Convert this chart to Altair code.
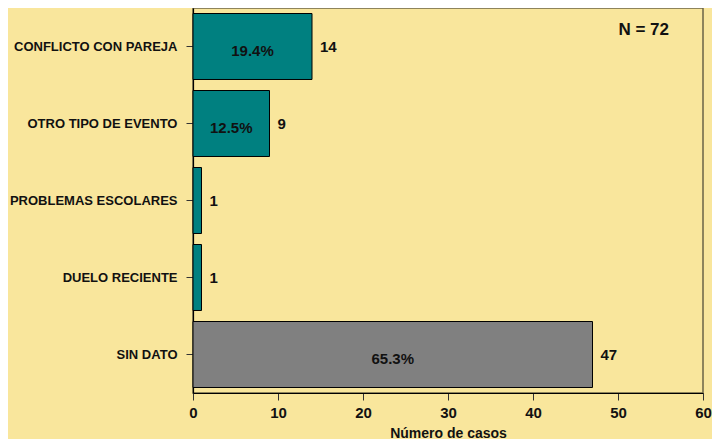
import altair as alt
import pandas as pd

categories = ["CONFLICTO CON PAREJA", "OTRO TIPO DE EVENTO", "PROBLEMAS ESCOLARES",
              "DUELO RECIENTE", "SIN DATO"]
counts = [14, 9, 1, 1, 47]
pct_labels = ["19.4%", "12.5%", "", "", "65.3%"]
groups = ["dato", "dato", "dato", "dato", "sin"]
x_ticks = [0, 10, 20, 30, 40, 50, 60]
n_label = "N = 72"

df = pd.DataFrame({
    "cat": categories,
    "n": counts,
    "pct": pct_labels,
    "grp": groups,
})
df["half"] = df["n"] / 2

FONT = "Liberation Sans"
BG = "#F9E69C"

y_enc = alt.Y("cat:N", sort=categories, title=None,
              scale=alt.Scale(paddingInner=0.143, paddingOuter=0.0715),
              axis=alt.Axis(labelFont=FONT, labelFontWeight="bold", labelFontSize=13,
                            labelColor="#111111", labelPadding=9, tickSize=7,
                            tickColor="#333333", domainColor="#000000", domainWidth=1.2,
                            labelLimit=300))
x_scale = alt.Scale(domain=[0, 60], nice=False)
x_enc = alt.X("n:Q", scale=x_scale, title="Número de casos",
              axis=alt.Axis(values=x_ticks, grid=False, labelFont=FONT,
                            labelFontWeight="bold", labelFontSize=15, labelColor="#111111",
                            tickSize=7, tickColor="#333333", labelPadding=5,
                            domainColor="#000000", domainWidth=1.2,
                            titleFont=FONT, titleFontWeight="bold", titleFontSize=14,
                            titleColor="#111111", titlePadding=6, labelFlush=False))

base = alt.Chart(df)

bars = base.mark_bar(stroke="#000000", strokeWidth=1).encode(
    y=y_enc,
    x=x_enc,
    color=alt.Color("grp:N", scale=alt.Scale(domain=["dato", "sin"],
                                             range=["#008080", "#808080"]), legend=None),
)

values = base.mark_text(align="left", baseline="middle", dx=8, font=FONT,
                        fontWeight="bold", fontSize=15, color="#111111").encode(
    y=alt.Y("cat:N", sort=categories),
    x=alt.X("n:Q", scale=x_scale),
    text="n:Q",
)

pcts = base.mark_text(align="center", baseline="middle", dy=4, font=FONT,
                      fontWeight="bold", fontSize=15, color="#111111").encode(
    y=alt.Y("cat:N", sort=categories),
    x=alt.X("half:Q", scale=x_scale),
    text="pct:N",
)

ndf = pd.DataFrame({"x": [56], "t": [n_label]})
ntext = alt.Chart(ndf).mark_text(align="right", baseline="middle", font=FONT,
                                 fontWeight="bold", fontSize=17, color="#111111").encode(
    x=alt.X("x:Q", scale=x_scale),
    y=alt.value(22),
    text="t:N",
)

chart = alt.layer(bars, values, pcts, ntext).properties(
    width=510, height=385,
    background=BG,
    padding={"left": 185, "top": 0, "right": 9, "bottom": 46},
    autosize=alt.AutoSizeParams(type="none"),
).configure_view(
    stroke="#6B6446", strokeWidth=1.5, fill=BG,
)

chart.save("out.html", embed_options={"renderer": "svg", "actions": False})
